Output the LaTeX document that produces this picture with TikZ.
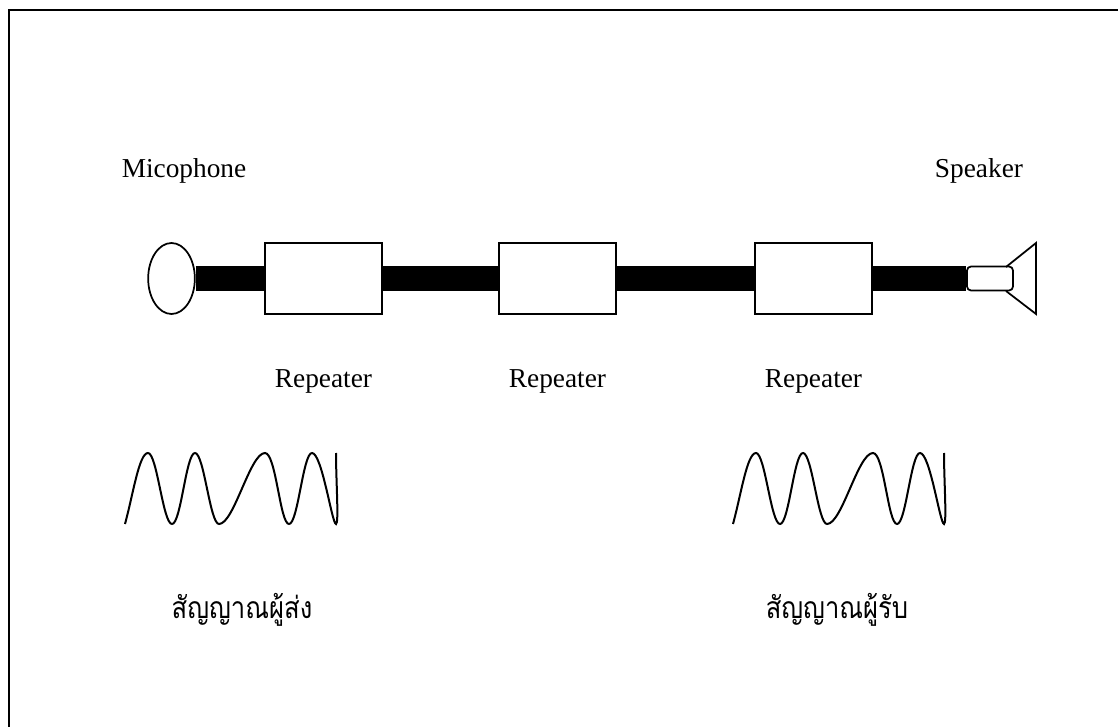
\documentclass[tikz,border=0pt]{standalone}
\usepackage{fontspec}
\setmainfont{Liberation Serif}
\newfontfamily\thaifont[Script=Thai,FakeStretch=0.85]{Loma}
\usetikzlibrary{shapes.geometric}
\tikzset{
  lbl/.style={inner sep=0pt,font=\fontsize{20.5}{25}\selectfont},
  thailbl/.style={inner sep=0pt,font=\fontsize{22.6}{25}\selectfont\thaifont},
  repbox/.style={draw,fill=white,line width=1.3pt,minimum width=87.75pt,minimum height=53.25pt,inner sep=0pt},
  wire/.style={line width=18.5pt},
  wave/.style={line width=1.5pt}
}
\begin{document}
\begin{tikzpicture}[x=0.75pt,y=-0.75pt]
    \useasboundingbox (0,0) rectangle (1118,727);
    \coordinate (tl) at (8.5,10);
    \coordinate (tr) at (1118,10);
    \coordinate (bl) at (8.5,727);
    \draw[line width=1.5pt] (tr) -- (tl) -- (bl);
    % line
    \node[draw,fill=white,ellipse,line width=1.3pt,minimum width=35pt,minimum height=53.25pt,inner sep=0pt] (mic) at (171.5,278.5) {};
    \foreach \x/\y in {1/323.5,2/557.5,3/813.5}{
      \node[repbox] (rep\x) at (\y,278.5) {};
      \node[lbl] (replbl\x) at (\y,381) {Repeater};
    }
    \node[draw,fill=white,rounded corners=3pt,line width=1.3pt,minimum width=34.5pt,minimum height=18pt,inner sep=0pt] (coil) at (990,278.5) {};
    \draw[wire] (mic) -- (rep1);
    \draw[wire] (rep1) -- (rep2);
    \draw[wire] (rep2) -- (rep3);
    \draw[wire] (rep3) -- (coil);
    % speaker
    \coordinate (c1) at (1006,267);
    \coordinate (c2) at (1036,243);
    \coordinate (c3) at (1036,314);
    \coordinate (c4) at (1006,291);
    \draw[line width=1.3pt] (c1) -- (c2) -- (c3) -- (c4);
    \node[lbl] (miclbl) at (184,171) {Micophone};
    \node[lbl] (spklbl) at (979,171) {Speaker};
    % waves
    \foreach \x in {0,608}{
      \begin{scope}[xshift=\x*0.75pt]
        \draw[wave] (125,524) .. controls (133,495) and (139,453) .. (148,453)
          .. controls (157,453) and (163,524) .. (172,524)
          .. controls (181,524) and (186,453) .. (195,453)
          .. controls (204,453) and (210,524) .. (219,524)
          .. controls (234,524) and (250,453) .. (265,453)
          .. controls (276,453) and (280,524) .. (289,524)
          .. controls (298,524) and (303,453) .. (312,453)
          .. controls (322,453) and (332,524) .. (336,524)
          .. controls (339,524) and (336,480) .. (336,453);
      \end{scope}
    }
    \node[thailbl] (sendlbl) at (242,610) {สัญญาณผู้ส่ง};
    \node[thailbl] (recvlbl) at (837,610) {สัญญาณผู้รับ};
\end{tikzpicture}
\end{document}
